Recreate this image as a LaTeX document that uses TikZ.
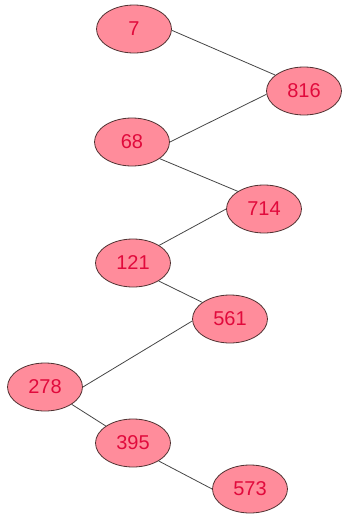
\documentclass[tikz,border=0pt]{standalone}
\usepackage{fontspec}
\setmainfont{Liberation Sans}
\usetikzlibrary{shapes.geometric}
\definecolor{nodefill}{RGB}{255,140,155}
\definecolor{nodetext}{RGB}{225,10,60}
\definecolor{nodeborder}{RGB}{80,50,50}
\definecolor{edgecol}{RGB}{70,70,70}
\begin{document}
\begin{tikzpicture}[x=1pt,y=-1pt,
  vtx/.style={ellipse,draw=nodeborder,fill=nodefill,line width=0.8pt,
    minimum width=75pt,minimum height=48pt,inner sep=0pt,
    text=nodetext,font=\fontsize{20}{24}\selectfont},
  edge/.style={draw=edgecol,line width=0.8pt}]
\useasboundingbox (0,0) rectangle (341,515);
\node[vtx] (n7) at (134,29) {7};
\node[vtx] (n816) at (304,91) {816};
\node[vtx] (n68) at (132,142) {68};
\node[vtx] (n714) at (264,209) {714};
\node[vtx] (n121) at (133,263) {121};
\node[vtx] (n561) at (230,319) {561};
\node[vtx] (n278) at (45,387) {278};
\node[vtx] (n395) at (133,443) {395};
\node[vtx] (n573) at (250,489) {573};
\draw[edge] (n7.-2) -- (n816.151);
\draw[edge] (n816.185) -- (n68.0);
\draw[edge] (n68.-31) -- (n714.146);
\draw[edge] (n714.180) -- (n121.34);
\draw[edge] (n121.-35) -- (n561.149);
\draw[edge] (n561.183) -- (n278.0);
\draw[edge] (n278.-33) -- (n395.148);
\draw[edge] (n395.-35) -- (n573.180);
\end{tikzpicture}
\end{document}
